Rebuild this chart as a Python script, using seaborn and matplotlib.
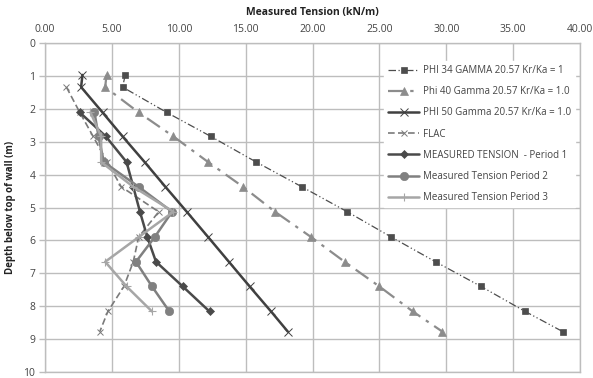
import matplotlib
matplotlib.use("Agg")
import matplotlib.pyplot as plt
import seaborn as sns
import pandas as pd
from matplotlib.ticker import FormatStrFormatter, MultipleLocator

# ---- data ----
depth_theory = [0.97, 1.34, 2.11, 2.84, 3.62, 4.37, 5.13, 5.90, 6.65, 7.40, 8.16, 8.77]
phi34 = [6.0, 5.8, 9.1, 12.4, 15.8, 19.2, 22.6, 25.9, 29.2, 32.6, 35.9, 38.7]
phi40 = [4.6, 4.5, 7.0, 9.6, 12.2, 14.8, 17.2, 19.9, 22.4, 25.0, 27.5, 29.7]
phi50 = [2.8, 2.7, 4.3, 5.8, 7.45, 9.0, 10.6, 12.2, 13.75, 15.3, 16.9, 18.15]

depth_flac = [1.34, 2.11, 2.84, 3.62, 4.37, 5.13, 5.90, 6.65, 7.40, 8.16, 8.77]
flac = [1.6, 2.6, 3.6, 4.65, 5.7, 8.5, 7.0, 6.6, 5.9, 4.7, 4.1]

depth_meas = [2.11, 2.84, 3.62, 4.37, 5.13, 5.90, 6.65, 7.40, 8.16]
period1 = [2.6, 4.55, 6.1, 6.6, 7.1, 7.65, 8.3, 10.3, 12.3]
period2 = [3.7, 4.0, 4.4, 7.0, 9.5, 8.2, 6.8, 8.0, 9.3]
period3 = [3.4, 4.2, 4.2, 6.6, 9.6, 7.0, 4.5, 6.1, 8.0]

labels = ["PHI 34 GAMMA 20.57 Kr/Ka = 1",
          "Phi 40 Gamma 20.57 Kr/Ka = 1.0",
          "PHI 50 Gamma 20.57 Kr/Ka = 1.0",
          "FLAC",
          "MEASURED TENSION  - Period 1",
          "Measured Tension Period 2",
          "Measured Tension Period 3"]
x_ticks = [0, 5, 10, 15, 20, 25, 30, 35, 40]
y_ticks = list(range(0, 11))

series = [
    (phi34, depth_theory, dict(color="#4d4d4d", lw=0.9, ls=(0, (6, 2, 1, 2, 1, 2)), marker="s", ms=5)),
    (phi40, depth_theory, dict(color="#8c8c8c", lw=1.6, ls=(0, (7, 3, 1.5, 3)), marker="^", ms=6)),
    (phi50, depth_theory, dict(color="#404040", lw=1.8, ls="-", marker="x", ms=6, mew=0.7)),
    (flac, depth_flac, dict(color="#7a7a7a", lw=1.2, ls=(0, (4, 2)), marker="x", ms=5, mew=0.7)),
    (period1, depth_meas, dict(color="#4a4a4a", lw=1.8, ls="-", marker="D", ms=4)),
    (period2, depth_meas, dict(color="#808080", lw=1.8, ls="-", marker="o", ms=6)),
    (period3, depth_meas, dict(color="#a6a6a6", lw=1.8, ls="-", marker="+", ms=6, mew=0.8)),
]

sns.set_theme(style="white")
plt.rcParams["font.family"] = ["Open Sans", "DejaVu Sans"]

fig = plt.figure(figsize=(5.93, 3.78), dpi=100)
ax = fig.add_axes([45 / 593, 6 / 378, 535 / 593, 329 / 378])

for (xv, yv, st), lab in zip(series, labels):
    df = pd.DataFrame({"x": xv, "y": yv})
    sns.lineplot(data=df, x="x", y="y", sort=False, estimator=None, ax=ax,
                 label=lab, color=st["color"], linewidth=st["lw"],
                 linestyle=st["ls"], marker=st["marker"], markersize=st["ms"],
                 markeredgewidth=st.get("mew", 0.5), markeredgecolor=st["color"],
                 zorder=3)

ax.set_xlim(0, 40)
ax.set_ylim(10, 0)
ax.set_xticks(x_ticks)
ax.set_yticks(y_ticks)
ax.xaxis.set_major_formatter(FormatStrFormatter("%.2f"))
ax.xaxis.tick_top()
ax.xaxis.set_label_position("top")
ax.grid(True, color="#bdbdbd", lw=1.0)
ax.set_axisbelow(True)
for s in ax.spines.values():
    s.set_color("#bdbdbd")
    s.set_linewidth(1.0)
ax.tick_params(axis="both", labelsize=7.5, colors="#555555", length=4, width=1.0,
               pad=3)
ax.tick_params(axis="x", length=0, pad=6)
ax.tick_params(axis="y", left=True, color="#bdbdbd")
for t in ax.get_xticklabels() + ax.get_yticklabels():
    t.set_color("#444444")

ax.set_xlabel("Measured Tension (kN/m)", fontsize=7.5, fontweight="bold",
              color="#222222", labelpad=6)
ax.set_ylabel("Depth below top of wall (m)", fontsize=7, fontweight="bold",
              color="#222222", labelpad=5)

leg = ax.legend(loc="upper right", bbox_to_anchor=(1.0, 0.96), fontsize=7,
                frameon=True, framealpha=1, edgecolor="white", facecolor="white",
                handlelength=3.2, labelspacing=1.05, borderpad=0.4,
                handletextpad=0.4, fancybox=False)
for t in leg.get_texts():
    t.set_color("#444444")

fig.savefig("out.png", dpi=100)
